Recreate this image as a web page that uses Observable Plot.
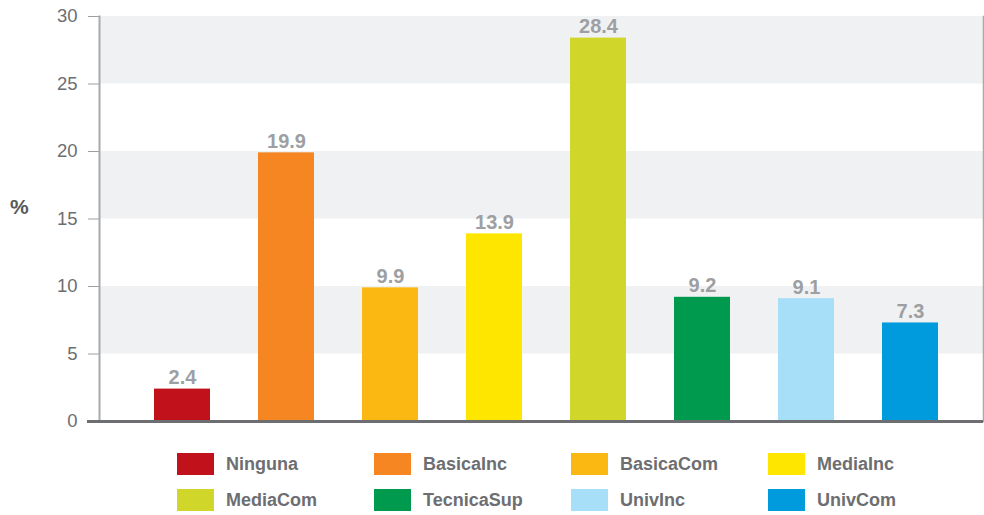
<!DOCTYPE html>
<html>
<head>
<meta charset="utf-8">
<script src="https://cdn.jsdelivr.net/npm/d3@7"></script>
<script src="https://cdn.jsdelivr.net/npm/@observablehq/plot@0.6"></script>
<style>
  body { margin: 0; background: #fff; font-family: "Liberation Sans", Arial, sans-serif; }
  #wrap { position: relative; width: 984px; height: 515px; }
  #chart { position: absolute; left: 0; top: 0; }
  #chart g[aria-label="y-axis tick label"] { font-size: 18.5px !important; }
  #chart g[aria-label="y-axis tick label"] text { font-size: 18.5px !important; }
  #pct { position: absolute; left: 10px; top: 195px; font-size: 21px; font-weight: bold; color: #58595b; }
  #legend { position: absolute; left: 177px; top: 453px; width: 800px; display: grid;
            grid-template-columns: 197px 197px 197px 197px; row-gap: 14px; }
  .item { display: flex; align-items: center; height: 22px; font-size: 18px; font-weight: bold; color: #6d6e71; }
  .sw { width: 37px; height: 22px; margin-right: 12px; flex: none; }
</style>
</head>
<body>
<div id="wrap">
  <div id="chart"></div>
  <div id="pct">%</div>
  <div id="legend"></div>
</div>
<script>
const categories = ["Ninguna", "BasicaInc", "BasicaCom", "MediaInc", "MediaCom", "TecnicaSup", "UnivInc", "UnivCom"];
const values = [2.4, 19.9, 9.9, 13.9, 28.4, 9.2, 9.1, 7.3];
const colors = ["#c1121c", "#f58621", "#fbb813", "#ffe600", "#d0d62a", "#009a4e", "#a8dff8", "#009bdd"];
const yTicks = [0, 5, 10, 15, 20, 25, 30];
const shadedBands = [[5, 10], [15, 20], [25, 30]];

const data = categories.map((c, i) => ({cat: c, value: values[i]}));
const bands = shadedBands.map(([a, b]) => ({y1: a, y2: b}));

const chart = Plot.plot({
  width: 984,
  height: 440,
  marginLeft: 99,
  marginRight: 1,
  marginTop: 16,
  marginBottom: 19,
  style: {fontFamily: '"Liberation Sans", Arial, sans-serif', fontSize: "18px", background: "transparent"},
  x: {domain: categories, range: [104, 988], paddingInner: 0.46, paddingOuter: 0.48, axis: null},
  y: {domain: [0, 30], ticks: yTicks, tickSize: 11, tickPadding: 11, label: null},
  color: {domain: categories, range: colors},
  marks: [
    Plot.rectY(bands, {y1: "y1", y2: "y2", fill: "#f0f1f3"}),
    Plot.axisY({ticks: yTicks, tickSize: 11, tickPadding: 11, fontSize: 18.5, color: "#6d6e71", stroke: "#9d9fa2", label: null, tickFormat: d => String(d)}),
    Plot.frame({anchor: "left", stroke: "#a7a9ac", strokeWidth: 2}),
    Plot.frame({anchor: "right", stroke: "#a7a9ac", strokeWidth: 1.5}),
    Plot.barY(data, {x: "cat", y: "value", fill: "cat"}),
    Plot.ruleY([0], {stroke: "#6d6e71", strokeWidth: 3, insetLeft: -12}),
    Plot.text(data, {x: "cat", y: "value", text: d => d.value.toFixed(1), lineAnchor: "bottom", dy: -5,
                     fontSize: 20, fontWeight: "bold", fill: "#9d9fa2"})
  ]
});
document.getElementById("chart").appendChild(chart);

const legend = document.getElementById("legend");
categories.forEach((c, i) => {
  const it = document.createElement("div");
  it.className = "item";
  const sw = document.createElement("div");
  sw.className = "sw";
  sw.style.background = colors[i];
  const lb = document.createElement("span");
  lb.textContent = c;
  it.appendChild(sw);
  it.appendChild(lb);
  legend.appendChild(it);
});
</script>
</body>
</html>
